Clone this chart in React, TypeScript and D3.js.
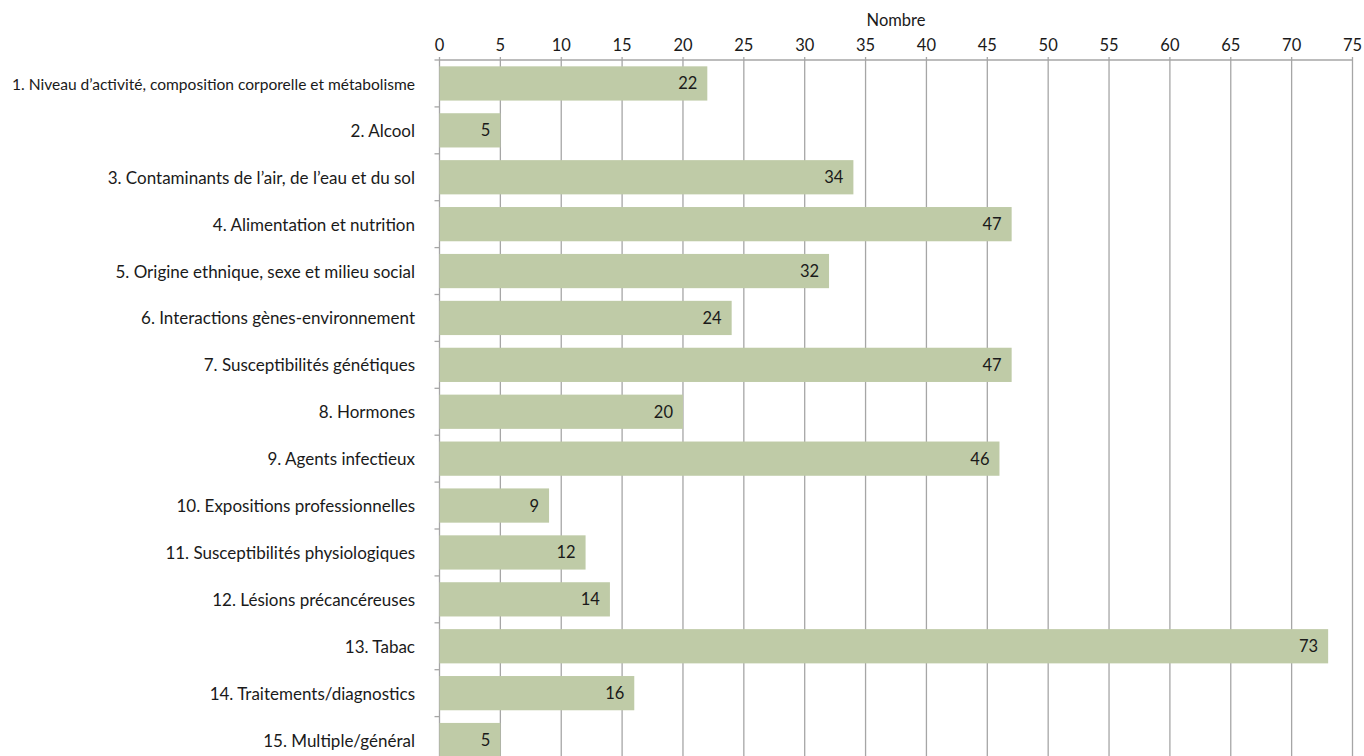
import React from "react";
import * as d3 from "d3";

const categories = [
  "1. Niveau d’activité, composition corporelle et métabolisme",
  "2. Alcool",
  "3. Contaminants de l’air, de l’eau et du sol",
  "4. Alimentation et nutrition",
  "5. Origine ethnique, sexe et milieu social",
  "6. Interactions gènes-environnement",
  "7. Susceptibilités génétiques",
  "8. Hormones",
  "9. Agents infectieux",
  "10. Expositions professionnelles",
  "11. Susceptibilités physiologiques",
  "12. Lésions précancéreuses",
  "13. Tabac",
  "14. Traitements/diagnostics",
  "15. Multiple/général",
];
const values = [22, 5, 34, 47, 32, 24, 47, 20, 46, 9, 12, 14, 73, 16, 5];
const xTicks = d3.range(0, 80, 5);
const axisTitle = "Nombre";

const W = 1364;
const H = 756;
const left = 439.5;
const right = 1352.5;
const top = 60;
const bandStep = 46.9;
const bottom = top + bandStep * categories.length;

const FONT = "Lato, 'Open Sans', sans-serif";
const TEXT = "#1a1a1a";
const GRID = "#a6a6a6";
const BAR = "#bfcba7";

export default function App() {
  const x = d3.scaleLinear().domain([0, 75]).range([left, right]);
  const y = d3
    .scaleBand<string>()
    .domain(categories)
    .range([top, bottom])
    .paddingInner(0.27)
    .paddingOuter(0.135);

  return (
    <svg
      width={W}
      height={H}
      style={{ position: "absolute", left: 0, top: 0, display: "block" }}
      fontFamily={FONT}
    >
      {/* vertical gridlines */}
      {xTicks.map((t) => (
        <line
          key={"g" + t}
          x1={x(t)}
          x2={x(t)}
          y1={top - 3}
          y2={bottom}
          stroke={GRID}
          strokeWidth={1.3}
        />
      ))}
      {/* top axis line */}
      <line x1={left} x2={right} y1={top} y2={top} stroke={GRID} strokeWidth={1.3} />
      {/* category tick marks on the left axis */}
      {d3.range(categories.length + 1).map((i) => (
        <line
          key={"c" + i}
          x1={left - 5}
          x2={left}
          y1={top + i * bandStep}
          y2={top + i * bandStep}
          stroke={GRID}
          strokeWidth={1.3}
        />
      ))}
      {/* bars */}
      {categories.map((c, i) => (
        <rect
          key={"b" + i}
          x={x(0)}
          y={y(c)}
          width={x(values[i]) - x(0)}
          height={y.bandwidth()}
          fill={BAR}
        />
      ))}
      {/* value labels */}
      {categories.map((c, i) => (
        <text
          key={"v" + i}
          x={x(values[i]) - 10}
          y={(y(c) as number) + y.bandwidth() / 2 + 6}
          textAnchor="end"
          fontSize={16.5}
          fill={TEXT}
        >
          {values[i]}
        </text>
      ))}
      {/* category labels; the longest one is condensed to fit the margin */}
      {categories.map((c, i) => (
        <text
          key={"l" + i}
          x={415}
          y={(y(c) as number) + y.bandwidth() / 2 + 6.5}
          textAnchor="end"
          fontSize={i === 0 ? 16 : 17}
          fill={TEXT}
          {...(i === 0 ? { textLength: 403, lengthAdjust: "spacingAndGlyphs" } : {})}
        >
          {c}
        </text>
      ))}
      {/* tick labels */}
      {xTicks.map((t) => (
        <text
          key={"t" + t}
          x={x(t)}
          y={51}
          textAnchor="middle"
          fontSize={16.5}
          fill={TEXT}
        >
          {t}
        </text>
      ))}
      <text x={(left + right) / 2} y={26} textAnchor="middle" fontSize={16.5} fill={TEXT}>
        {axisTitle}
      </text>
    </svg>
  );
}
